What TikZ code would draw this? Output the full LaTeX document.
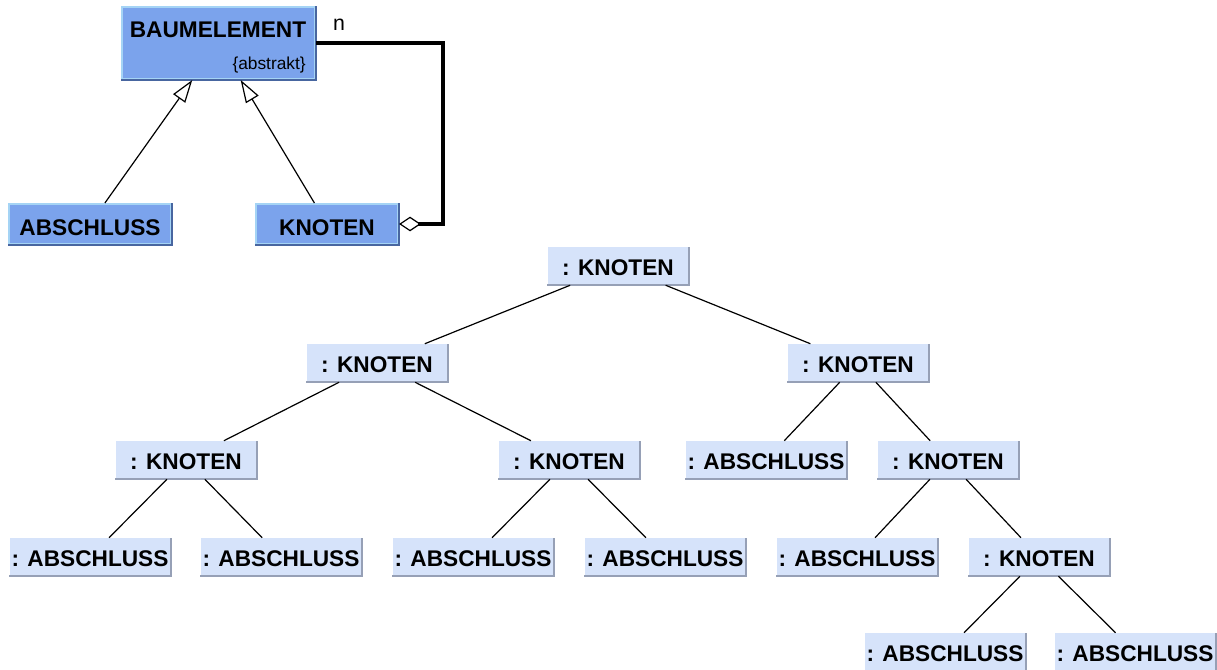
\documentclass[tikz,border=0pt]{standalone}
\usepackage{fontspec}
\setmainfont{Liberation Sans}
\usetikzlibrary{arrows.meta}

\definecolor{clsfill}{RGB}{123,163,236}
\definecolor{clslight}{RGB}{165,212,245}
\definecolor{clsdark}{RGB}{72,102,160}
\definecolor{objfill}{RGB}{214,227,250}
\definecolor{objdark}{RGB}{150,160,182}

\begin{document}
\begin{tikzpicture}[x=0.75pt, y=-0.75pt,
	classbox/.style={fill=clsfill, draw=clslight, line width=1.5pt, inner sep=0pt, text height=18pt, text depth=0pt, minimum height=30pt, font=\fontsize{17}{20}\selectfont\bfseries},
	objbox/.style={fill=objfill, inner sep=0pt, text height=14.5pt, text depth=0pt, minimum height=28.5pt, font=\fontsize{17}{20}\selectfont\bfseries},
	objk/.style={objbox, minimum width=105.75pt},
	obja/.style={objbox, minimum width=120.75pt},
	gen/.style={-{Triangle[open, length=17pt, width=11pt]}, line width=0.9pt},
	aggr/.style={line width=2.6pt, -{Diamond[open, length=16.5pt, width=11pt, line width=0.9pt]}},
	tree/.style={line width=0.9pt}]
	\useasboundingbox (0,0) rectangle (1217,670);

	% class diagram
	\node[classbox, text height=0pt, minimum width=144.75pt, minimum height=54pt] (b) at (218.5,43) {};
	\node[font=\fontsize{17}{20}\selectfont\bfseries] (bt) at (218,30) {BAUMELEMENT};
	\node[anchor=east, inner sep=0pt, font=\fontsize{13}{15}\selectfont] (ba) at (306,65) {\{abstrakt\}};
	\node[classbox, minimum width=121.5pt] (ca) at (90,224) {ABSCHLUSS};
	\node[classbox, minimum width=106.5pt] (ck) at (327,224) {KNOTEN};
	\foreach \n in {b,ca,ck}
		\draw[clsdark, line width=2pt] (\n.south west) -- (\n.south east) -- (\n.north east);

	\draw[gen] (ca) -- (b);
	\draw[gen] (ck) -- (b);
	\coordinate (c) at (443,43);
	\draw[aggr] (b.east) -- (c) |- (ck.east);
	\node[font=\fontsize{16}{18}\selectfont] (n) at (339,25) {n};

	% object tree
	\node[objk] (k0) at (618,266) {: KNOTEN};
	\node[objk] (k1) at (377,363) {: KNOTEN};
	\node[objk] (k2) at (858,363) {: KNOTEN};
	\node[objk] (k3) at (186,460) {: KNOTEN};
	\node[objk] (k4) at (569,460) {: KNOTEN};
	\node[obja] (a1) at (766,460) {: ABSCHLUSS};
	\node[objk] (k5) at (948,460) {: KNOTEN};
	\node[obja] (a2) at (90,557) {: ABSCHLUSS};
	\node[obja] (a3) at (281,557) {: ABSCHLUSS};
	\node[obja] (a4) at (473,557) {: ABSCHLUSS};
	\node[obja] (a5) at (665,557) {: ABSCHLUSS};
	\node[obja] (a6) at (857,557) {: ABSCHLUSS};
	\node[objk] (k6) at (1039,557) {: KNOTEN};
	\node[obja] (a7) at (945,652) {: ABSCHLUSS};
	\node[obja] (a8) at (1135,652) {: ABSCHLUSS};
	\foreach \n in {k0,k1,k2,k3,k4,k5,k6,a1,a2,a3,a4,a5,a6,a7,a8}
		\draw[objdark, line width=1.5pt] (\n.south west) -- (\n.south east) -- (\n.north east);

	\foreach \p/\c in {k0/k1,k0/k2,k1/k3,k1/k4,k2/a1,k2/k5,k3/a2,k3/a3,k4/a4,k4/a5,k5/a6,k5/k6,k6/a7,k6/a8}
		\draw[tree] (\p) -- (\c);
\end{tikzpicture}
\end{document}
